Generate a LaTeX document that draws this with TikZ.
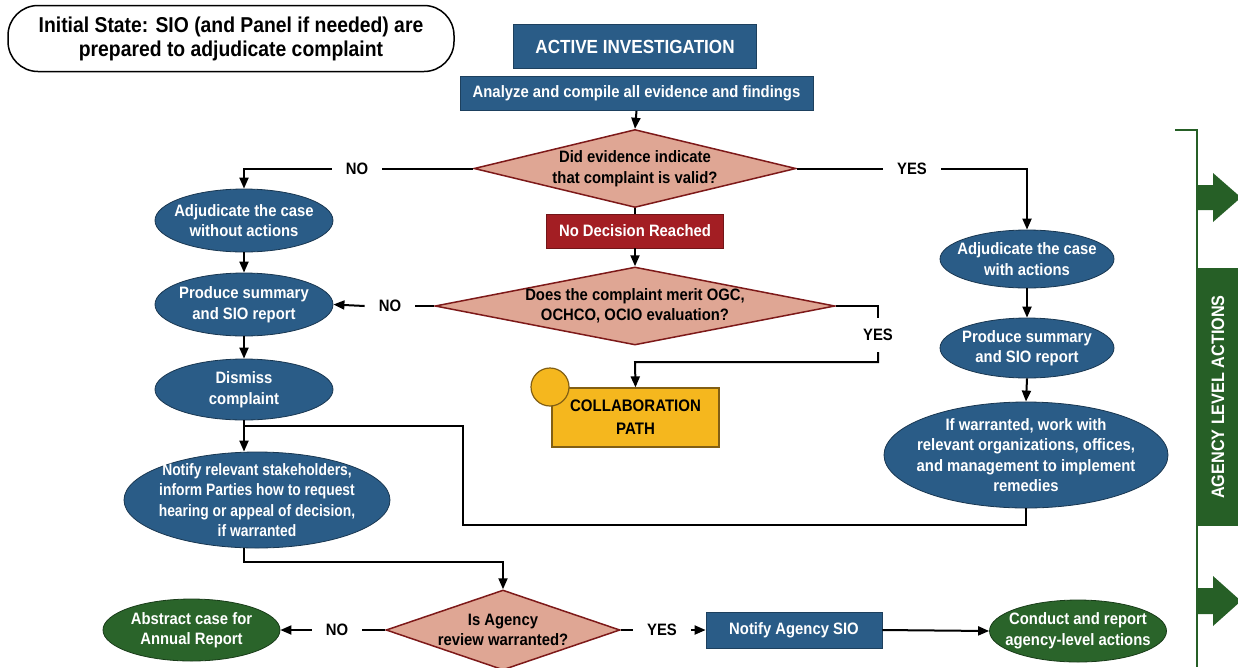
\documentclass[tikz,border=0pt]{standalone}
\usepackage{fontspec}
\setmainfont{Liberation Sans}[FakeStretch=0.9]
\newfontfamily\narrowf{Liberation Sans}[FakeStretch=0.84]
\usetikzlibrary{shapes.geometric,arrows.meta,calc}
\definecolor{bluef}{RGB}{42,92,135}
\definecolor{salmonf}{RGB}{223,166,148}
\definecolor{dred}{RGB}{125,25,25}
\definecolor{redbox}{RGB}{163,30,35}
\definecolor{yellowf}{RGB}{245,183,30}
\definecolor{ybord}{RGB}{130,95,20}
\definecolor{greenf}{RGB}{42,100,42}
\definecolor{greenbar}{RGB}{38,95,38}
\begin{document}
\begin{tikzpicture}[x=1pt,y=-1pt,
  font=\bfseries\fontsize{16.5}{20.5}\selectfont,
  line/.style={line width=2pt},
  arr/.style={line width=2pt,-{Triangle[length=11pt,width=9pt]}},
  bluebox/.style={rectangle,fill=bluef,draw=bluef!70!black,line width=0.8pt,text=white,inner sep=0pt},
  bell/.style={ellipse,fill=bluef,draw=bluef!60!black,line width=0.8pt,inner sep=0pt},
  gell/.style={ellipse,fill=greenf,draw=greenf!60!black,line width=0.8pt,inner sep=0pt},
  wt/.style={text=white,align=center},
  dia/.style={diamond,fill=salmonf,draw=dred,line width=1.5pt,inner sep=0pt},
  lab/.style={inner xsep=14pt,inner ysep=2pt},
  vlab/.style={inner xsep=2pt,inner ysep=11pt}
]
\useasboundingbox (0,0) rectangle (1238,667);
\clip (0,0) rectangle (1238,667);

% header
\node[draw,line width=1.5pt,rounded corners=30pt,minimum width=446,minimum height=66,align=center,
  font=\bfseries\fontsize{21.5}{24}\selectfont] (init) at (231,38.5)
  {Initial State: SIO (and Panel if needed) are\\prepared to adjudicate complaint};
\node[bluebox,minimum width=243,minimum height=44,font=\bfseries\fontsize{19}{22}\selectfont] (ai) at (635,46.5) {ACTIVE INVESTIGATION};
\node[bluebox,minimum width=353,minimum height=34] (an) at (636.5,93.5) {Analyze and compile all evidence and findings};

% diamonds
\node[dia,minimum width=322,minimum height=78] (d1) at (635,168.5) {};
\node[align=center] (d1t) at (d1) {Did evidence indicate\\that complaint is valid?};
\node[rectangle,fill=redbox,draw=redbox!70!black,line width=0.8pt,text=white,minimum width=177,minimum height=34,inner sep=0pt] (nd) at (635,231) {No Decision Reached};
\node[dia,minimum width=400,minimum height=78] (d2) at (635,306) {};
\node[align=center] (d2t) at (d2) {Does the complaint merit OGC,\\OCHCO, OCIO evaluation?};
\node[dia,minimum width=234,minimum height=80] (d3) at (503,630) {};
\node[align=center] (d3t) at (d3) {Is Agency\\review warranted?};

% collaboration path
\node[rectangle,fill=yellowf,draw=ybord,line width=1.2pt,minimum width=167,minimum height=59,align=center,
  font=\bfseries\fontsize{16.7}{23}\selectfont] (cp) at (635.5,417.5) {COLLABORATION\\PATH};
\node[circle,fill=yellowf,draw=ybord,line width=1.2pt,minimum size=38,inner sep=0pt] (cc) at (550,387) {};

% left column
\node[bell,minimum width=178,minimum height=63,label={[wt]center:Adjudicate the case\\without actions}] (a1) at (244,220.5) {};
\node[bell,minimum width=178,minimum height=63,label={[wt]center:Produce summary\\and SIO report}] (p1) at (244,304.5) {};
\node[bell,minimum width=178,minimum height=61,label={[wt]center:Dismiss\\complaint}] (dm) at (244,389.5) {};
\node[bell,minimum width=266,minimum height=96,label={[wt,font=\narrowf\bfseries\fontsize{16.5}{20.5}\selectfont]center:Notify relevant stakeholders,\\inform Parties how to request\\hearing or appeal of decision,\\if warranted}] (nt) at (257,500) {};

% right column
\node[bell,minimum width=174,minimum height=58,label={[wt]center:Adjudicate the case\\with actions}] (a2) at (1027,259) {};
\node[bell,minimum width=174,minimum height=60,label={[wt]center:Produce summary\\and SIO report}] (p2) at (1027,348) {};
\node[bell,minimum width=284,minimum height=106,label={[wt]center:If warranted, work with\\relevant organizations, offices,\\and management to implement\\remedies}] (rm) at (1026,455) {};

% bottom row
\node[gell,minimum width=177,minimum height=62,label={[wt]center:Abstract case for\\Annual Report}] (ab) at (191.5,630) {};
\node[bluebox,minimum width=176,minimum height=36] (ns) at (794,630) {Notify Agency SIO};
\node[gell,minimum width=177,minimum height=62,label={[wt]center:Conduct and report\\agency-level actions}] (cr) at (1078,631) {};

% labels
\node[lab] (no1) at (357,168.5) {NO};
\node[lab] (yes1) at (912,168.5) {YES};
\node[lab] (no2) at (390,306) {NO};
\node[vlab] (yes2) at (878,335) {YES};
\node[lab] (no3) at (337,630) {NO};
\node[lab] (yes3) at (662,630) {YES};

% connectors
\draw[arr] (an.south) -- (d1.north);
\draw[line] (d1.west) -- (no1.east);
\draw[arr] (no1.west) -| (a1.north);
\draw[line] (d1.east) -- (yes1.west);
\draw[arr] (yes1.east) -| (a2.north);
\draw[line] (d1.south) -- (nd.north);
\draw[arr] (nd.south) -- (d2.north);
\draw[arr] (a1.south) -- (p1.north);
\draw[arr] (p1.south) -- (dm.north);
\draw[line] (d2.west) -- (no2.east);
\draw[arr] (no2.west) -- (p1.east);
\draw[line] (d2.east) -| (yes2.north);
\coordinate (cy) at (635,362);
\draw[arr] (yes2.south) |- (cy) -- (cp.north);
\draw[arr] (a2.south) -- (p2.north);
\draw[arr] (p2.south) -- (rm.north);
\draw[arr] (dm.south) -- (dm.south |- nt.north);
\coordinate (m1) at (244,426);
\coordinate (mr) at (463,525);
\draw[line] (rm.south) |- (mr) |- (m1);
\coordinate (m2) at (503,562);
\draw[arr] (nt.south -| dm.south) |- (m2) -- (d3.north);
\draw[line] (d3.west) -- (no3.east);
\draw[arr] (no3.west) -- (ab.east);
\draw[line] (d3.east) -- (yes3.west);
\draw[arr] (yes3.east) -- (ns.west);
\draw[arr] (ns.east) -- (cr.west);

% agency level actions side
\draw[greenbar,line width=1.5pt] (1175,130) -- (1197,130) -- (1197,667);
\fill[greenbar] (1197,185) -- (1213,185) -- (1213,173) -- (1241,197.5) -- (1213,222) -- (1213,210) -- (1197,210) -- cycle;
\fill[greenbar] (1197,588) -- (1213,588) -- (1213,576) -- (1241,601) -- (1213,626) -- (1213,614) -- (1197,614) -- cycle;
\node[rectangle,fill=greenbar,minimum width=44,minimum height=258,inner sep=0pt,anchor=north west] (bar) at (1197,268) {};
\node[rotate=90,text=white,font=\bfseries\fontsize{18}{20}\selectfont] (bart) at (1218,397) {AGENCY LEVEL ACTIONS};
\end{tikzpicture}
\end{document}
